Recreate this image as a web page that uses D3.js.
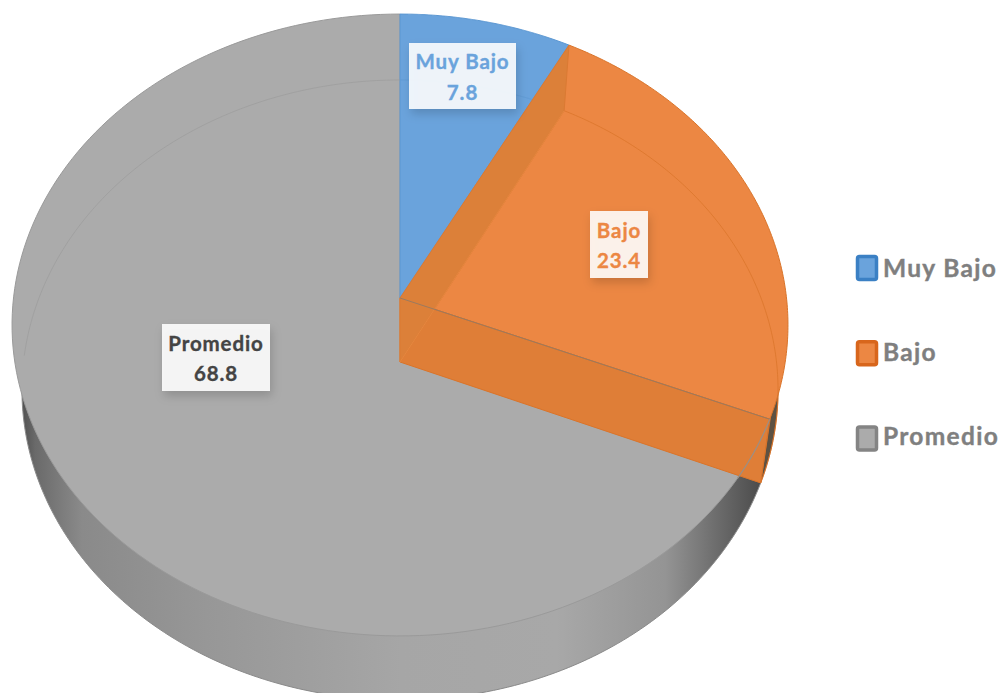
<!DOCTYPE html>
<html>
<head>
<meta charset="utf-8">
<script src="https://cdn.jsdelivr.net/npm/d3@7/dist/d3.min.js"></script>
<style>
html,body{margin:0;padding:0;background:#fff;}
svg{display:block;}
text{font-family:"Lato","Open Sans",sans-serif;font-weight:700;}
</style>
</head>
<body>
<svg id="chart" width="999" height="693"></svg>
<script>
const categories = ["Muy Bajo", "Bajo", "Promedio"];
const values = [7.8, 23.4, 68.8];
const faceColors = ["#6AA3DC", "#EC8743", "#ABABAB"];
const edgeColors = ["#5B97D2", "#D9742A", "#9A9A9A"];
const legendBorders = ["#3B80C4", "#D8661C", "#848484"];
const labelColors = ["#6AA3DC", "#EC8743", "#444444"];

// Tilted-disc projection: each rim is a circle seen in perspective.
const upperRim = {cx: 400, cy: 298, a: 386.5, b: 308.6, k: 0.0868};
const lowerRim = {cx: 400, cy: 362, a: 376.5, b: 307.5, k: 0.0903};
const project = (rim, angle, r = 1) => {
  const x = r * Math.sin(angle), z = r * Math.cos(angle), w = 1 + rim.k * z;
  return [rim.cx + rim.a * x / w, rim.cy - rim.b * z / w];
};
const samples = (a0, a1, n = 160) =>
  d3.range(n + 1).map(i => a0 + (a1 - a0) * i / n);
const arcPts = (rim, a0, a1) => samples(a0, a1).map(a => project(rim, a));
const line = d3.line();
const closed = pts => line(pts) + "Z";

const svg = d3.select("#chart");
const defs = svg.append("defs");

const wallGrad = defs.append("linearGradient")
  .attr("id", "wall").attr("gradientUnits", "userSpaceOnUse")
  .attr("x1", 12).attr("x2", 790).attr("y1", 0).attr("y2", 0);
[[0, "#3f3f3f"], [0.03, "#6a6a6a"], [0.09, "#8a8a8a"], [0.25, "#979797"],
 [0.5, "#a6a6a6"], [0.7, "#a8a8a8"], [0.84, "#949494"], [0.92, "#646464"], [0.97, "#474747"], [1, "#3a3a3a"]]
  .forEach(([o, c]) => wallGrad.append("stop").attr("offset", o).attr("stop-color", c));

const shadow = defs.append("filter").attr("id", "labelShadow")
  .attr("x", "-30%").attr("y", "-30%").attr("width", "160%").attr("height", "170%");
shadow.append("feDropShadow").attr("dx", 2).attr("dy", 5).attr("stdDeviation", 5)
  .attr("flood-color", "#000").attr("flood-opacity", 0.18);

const pie = d3.pie().sort(null).value(d => d);
const slices = pie(values);
const [low, mid, big] = slices;
const TAU = Math.PI * 2;

// Outer wall, seen below the top face; the lower rim carries the silhouette.
svg.append("path")
  .attr("d", closed(arcPts(lowerRim, 1.6, TAU - 1.6)))
  .attr("fill", "url(#wall)");
svg.append("path")
  .attr("d", line(arcPts(lowerRim, mid.endAngle, TAU - 1.5)))
  .attr("fill", "none").attr("stroke", "#8a8a8a").attr("stroke-width", 1);

// The narrow wall piece belonging to the orange slice.
svg.append("path")
  .attr("d", closed(arcPts(lowerRim, 1.6, mid.endAngle)))
  .attr("fill", "#5d5142").attr("stroke", "#D9742A").attr("stroke-width", 1);

// Top faces.
const sector = (s, rim) =>
  closed([[rim.cx, rim.cy], ...arcPts(rim, s.startAngle, s.endAngle)]);
slices.slice().reverse().forEach(s => {
  svg.append("path").attr("d", sector(s, upperRim))
    .attr("fill", faceColors[s.index])
    .attr("stroke", edgeColors[s.index]).attr("stroke-width", 1);
});

// Back of the lower rim, showing faintly through the top faces.
slices.forEach(s => {
  const end = s.index === 2 ? TAU : s.endAngle;
  const start = s.index === 2 ? TAU - 1.55 : s.startAngle;
  svg.append("path").attr("d", line(arcPts(lowerRim, start, end)))
    .attr("fill", "none").attr("stroke", edgeColors[s.index])
    .attr("stroke-width", 1).attr("opacity", s.index === 1 ? 0.75 : 0.6);
});

// Radial cut walls of the orange slice; the far wall shows through the near one.
const wallFace = a => closed([
  [upperRim.cx, upperRim.cy], project(upperRim, a),
  project(lowerRim, a), [lowerRim.cx, lowerRim.cy]
]);
svg.append("path").attr("d", wallFace(mid.endAngle))
  .attr("fill", "#DF7E37").attr("stroke", "#D9742A").attr("stroke-width", 1);
svg.append("path").attr("d", wallFace(mid.startAngle))
  .attr("fill", "#DC8039").attr("stroke", "#DB7A33").attr("stroke-width", 1);
svg.append("path")
  .attr("d", line([[lowerRim.cx, lowerRim.cy], project(lowerRim, mid.startAngle)]))
  .attr("stroke", "#E58740").attr("stroke-width", 1).attr("fill", "none");

// Hairline where the grey top face meets the orange cut wall.
svg.append("path")
  .attr("d", line([[upperRim.cx, upperRim.cy], project(upperRim, mid.endAngle)]))
  .attr("stroke", "#9a7a60").attr("stroke-width", 1).attr("fill", "none");
svg.append("path")
  .attr("d", line(arcPts(upperRim, mid.endAngle, mid.endAngle + 0.2)))
  .attr("stroke", "#9a8f86").attr("stroke-width", 1.2).attr("fill", "none");

// Data labels.
const labelBoxes = [
  {cx: 462.5, cy: 76, w: 107, h: 66},
  {cx: 619, cy: 244.5, w: 58, h: 67},
  {cx: 216, cy: 357.5, w: 108, h: 67}
];
slices.forEach(s => {
  const i = s.index, b = labelBoxes[i];
  const g = svg.append("g").attr("transform", `translate(${b.cx},${b.cy})`);
  g.append("rect").attr("x", -b.w / 2).attr("y", -b.h / 2)
    .attr("width", b.w).attr("height", b.h)
    .attr("fill", "#fff").attr("fill-opacity", 0.88)
    .attr("filter", "url(#labelShadow)");
  [categories[i], String(values[i])].forEach((t, row) => {
    g.append("text").attr("text-anchor", "middle").attr("y", row ? 23.5 : -7)
      .attr("font-size", 20.5).attr("letter-spacing", 0.9)
      .attr("fill", labelColors[i]).attr("stroke", labelColors[i])
      .attr("stroke-width", 0.35).text(t);
  });
});

// Legend.
const legendY = d3.scalePoint().domain(categories).range([268, 438.5]);
const legendBaseline = d3.scalePoint().domain(categories).range([277, 445]);
const legend = svg.selectAll("g.legend").data(categories).join("g")
  .attr("class", "legend");
legend.append("rect")
  .attr("x", 857.5).attr("y", d => legendY(d) - 11.5)
  .attr("width", 19).attr("height", 23).attr("rx", 2)
  .attr("fill", (d, i) => faceColors[i])
  .attr("stroke", (d, i) => legendBorders[i]).attr("stroke-width", 3.5);
legend.append("text")
  .attr("x", 883).attr("y", d => legendBaseline(d))
  .attr("font-size", 24.5).attr("letter-spacing", 1.3)
  .attr("fill", "#7f7f7f").attr("stroke", "#7f7f7f").attr("stroke-width", 0.4)
  .text(d => d);
</script>
</body>
</html>
